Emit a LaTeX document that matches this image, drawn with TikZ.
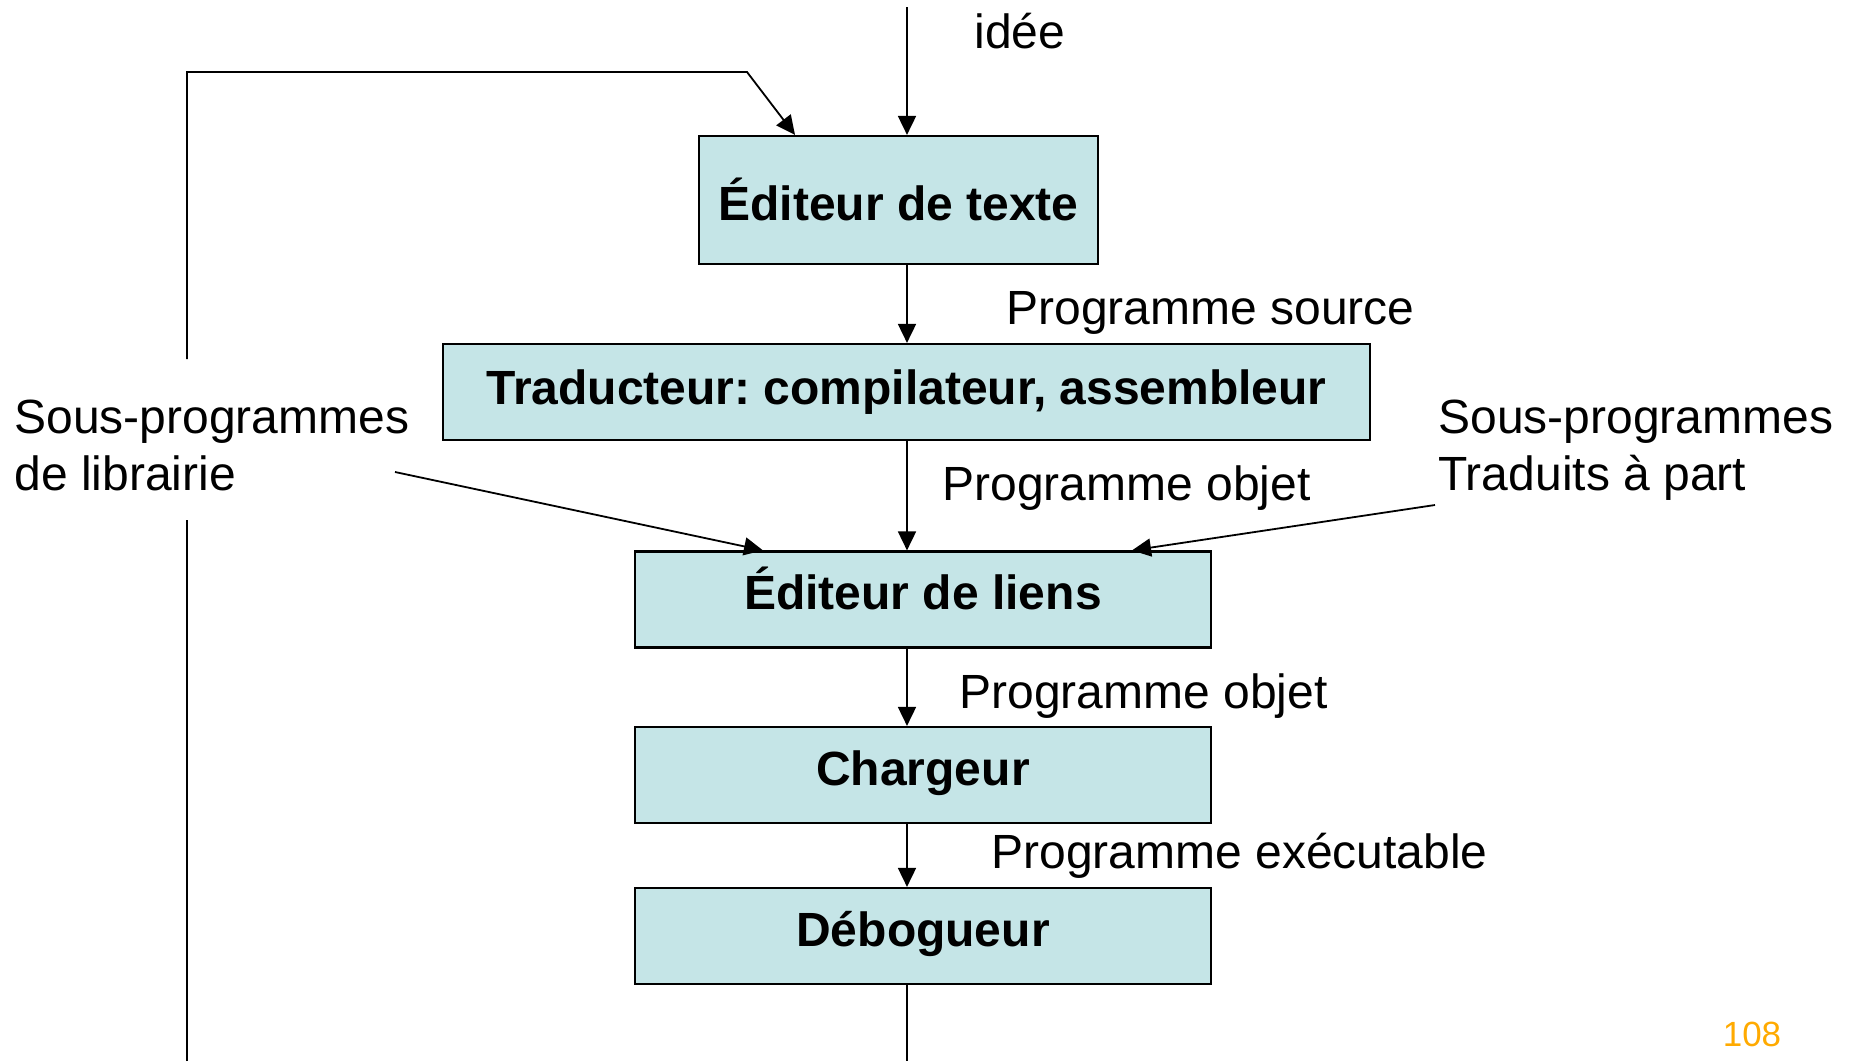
\documentclass[tikz,border=0pt]{standalone}
\usepackage{fontspec}
\setmainfont{Liberation Sans}
\usetikzlibrary{arrows.meta}
\definecolor{boite}{RGB}{197,229,231}
\definecolor{numero}{RGB}{255,170,0}
\frenchspacing
\tikzset{bloc/.style={draw,line width=1.1pt,fill=boite,inner sep=0pt,minimum width=288pt,minimum height=48pt,text height=17pt,text depth=7pt,font=\bfseries\fontsize{24}{28}\selectfont}}
\tikzset{legende/.style={inner sep=0pt,align=left,font=\fontsize{24}{28.5}\selectfont}}
\tikzset{fleche/.style={line width=0.9pt,-{Triangle[length=9.5pt,width=9pt]}}}
\tikzset{trait/.style={line width=0.9pt}}

\begin{document}
\begin{tikzpicture}[x=0.5pt,y=-0.5pt]
        \useasboundingbox (0,0) rectangle (1854,1061);
        \coordinate (axe) at (907,0);
        \coordinate (idee) at (907,7);
        \coordinate (bas) at (907,1061);
        \node[bloc,minimum width=199.5pt,minimum height=64pt,text height=20pt,text depth=0pt] (editeur) at (898.5,200) {Éditeur de texte};
        \node[bloc,minimum width=463.5pt,text height=18pt,text depth=6pt] (traducteur) at (906.5,392) {Traducteur: compilateur, assembleur};
        \node[bloc] (liens) at (923,599.5) {Éditeur de liens};
        \node[bloc] (chargeur) at (923,775) {Chargeur};
        \node[bloc] (debogueur) at (923,936) {Débogueur};
        \node[legende,anchor=base west] (lidee) at (974,48) {idée};
        \node[legende,anchor=base west] (lsource) at (1006,324) {Programme source};
        \node[legende,anchor=base west] (lobjet) at (942,500) {Programme objet};
        \node[legende,anchor=base west] (lobjetbis) at (959,708) {Programme objet};
        \node[legende,anchor=base west] (lexec) at (991,868) {Programme exécutable};
        \node[legende,anchor=base west] (lib) at (14,490) {Sous-programmes\\de librairie};
        \node[legende,anchor=base west] (trad) at (1438,490) {Sous-programmes\\Traduits à part};
        \node[inner sep=0pt,anchor=base,text=numero,font=\fontsize{17.5}{20}\selectfont] (page) at (1752,1046) {108};
        \coordinate (deblib) at (395,472);
        \coordinate (debtrad) at (1435,505);
        \coordinate (retourbas) at (187,1061);
        \coordinate (retourcoupe) at (187,520);
        \coordinate (retourhaut) at (187,359);
        \coordinate (coinbas) at (187,72);
        \coordinate (coinhaut) at (747,72);
        \draw[fleche] (idee) -- (idee |- editeur.north);
        \draw[fleche] (axe |- editeur.south) -- (axe |- traducteur.north);
        \draw[fleche] (axe |- traducteur.south) -- (axe |- liens.north);
        \draw[fleche] (axe |- liens.south) -- (axe |- chargeur.north);
        \draw[fleche] (axe |- chargeur.south) -- (axe |- debogueur.north);
        \draw[trait] (axe |- debogueur.south) -- (bas);
        \draw[fleche] (deblib) -- ([xshift=-80pt]liens.north);
        \draw[fleche] (debtrad) -- ([xshift=104.5pt]liens.north);
        \draw[trait] (retourbas) -- (retourcoupe);
        \draw[fleche] (retourhaut) -- (coinbas) -- (coinhaut) -- ([xshift=-51.75pt]editeur.north);
    \end{tikzpicture}
\end{document}
